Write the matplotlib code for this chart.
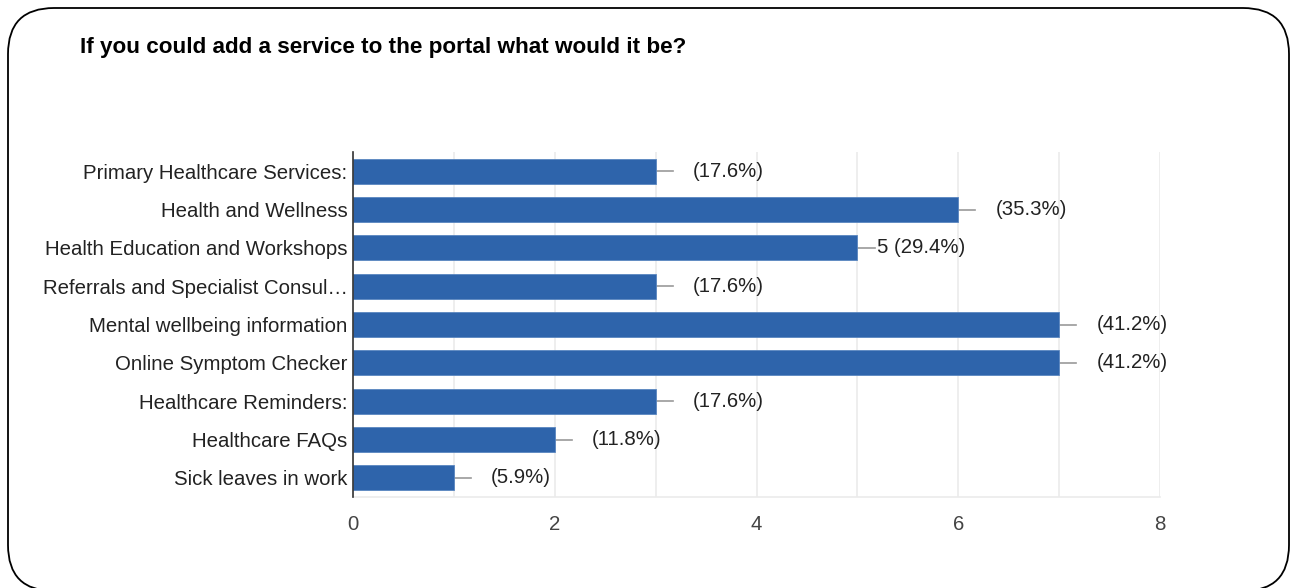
import matplotlib
matplotlib.use("Agg")
from matplotlib import pyplot as plt
from matplotlib.patches import FancyBboxPatch
from matplotlib.transforms import IdentityTransform

# survey answers, top to bottom
services = [
    "Primary Healthcare Services:",
    "Health and Wellness",
    "Health Education and Workshops",
    "Referrals and Specialist Consul\u2026",
    "Mental wellbeing information",
    "Online Symptom Checker",
    "Healthcare Reminders:",
    "Healthcare FAQs",
    "Sick leaves in work",
]
counts = [3, 6, 5, 3, 7, 7, 3, 2, 1]
percents = ["17.6%", "35.3%", "29.4%", "17.6%", "41.2%", "41.2%", "17.6%", "11.8%", "5.9%"]
# only the count for this one shows in the original
show_count = [False, False, True, False, False, False, False, False, False]

plt.rcParams['font.family'] = ['Liberation Sans', 'DejaVu Sans']
fs = 14.7

fig = plt.figure(figsize=(12.91, 5.88), dpi=100)
fig.patch.set_facecolor('white')

# rounded frame round the card
frame = FancyBboxPatch((8, -3), 1281, 583, boxstyle="round,pad=0,rounding_size=46",
                       transform=IdentityTransform(), fill=False,
                       edgecolor='black', linewidth=1.3)
fig.patches.append(frame)

fig.text(80 / 1291, 1 - 48 / 588, "If you could add a service to the portal what would it be?",
         fontsize=16.2, fontweight='bold', color='black', va='center', ha='left')

ax = fig.add_axes([353 / 1291, 1 - 497 / 588, 807 / 1291, 345 / 588])
ypos = list(range(len(services)))
ax.barh(ypos, counts, height=0.66, color='#2e64ab', edgecolor='#5a86c0', linewidth=0.6, zorder=3)

ax.set_xlim(0, 8)
ax.set_ylim(len(services) - 0.5, -0.5)
ax.set_yticks(ypos)
ax.set_yticklabels(services, fontsize=fs, color='#222222')
ax.set_xticks([0, 2, 4, 6, 8])
ax.set_xticklabels(['0', '2', '4', '6', '8'], fontsize=fs, color='#444444')
ax.set_xticks(range(9), minor=True)
ax.tick_params(axis='both', which='both', length=0)
ax.tick_params(axis='y', pad=4)
ax.tick_params(axis='x', pad=13)
ax.grid(axis='x', which='both', color='#ebebeb', linewidth=1.2, zorder=0)

for s in ['top', 'right']:
    ax.spines[s].set_visible(False)
ax.spines['bottom'].set_color('#ebebeb')
ax.spines['bottom'].set_linewidth(1.2)
ax.spines['left'].set_color('#333333')
ax.spines['left'].set_linewidth(1.2)
ax.spines['left'].set_zorder(4)

for y, c, p, show in zip(ypos, counts, percents, show_count):
    ax.plot([c, c + 0.17], [y, y], color='#999999', linewidth=1.2, zorder=2, clip_on=False)
    if show:
        ax.text(c + 0.19, y, f"{c} ({p})", fontsize=fs, color='#222222', va='center', ha='left')
    else:
        ax.text(c + 0.37, y, f"({p})", fontsize=fs, color='#222222', va='center', ha='left')

fig.savefig("out.png", dpi=100, facecolor='white')
